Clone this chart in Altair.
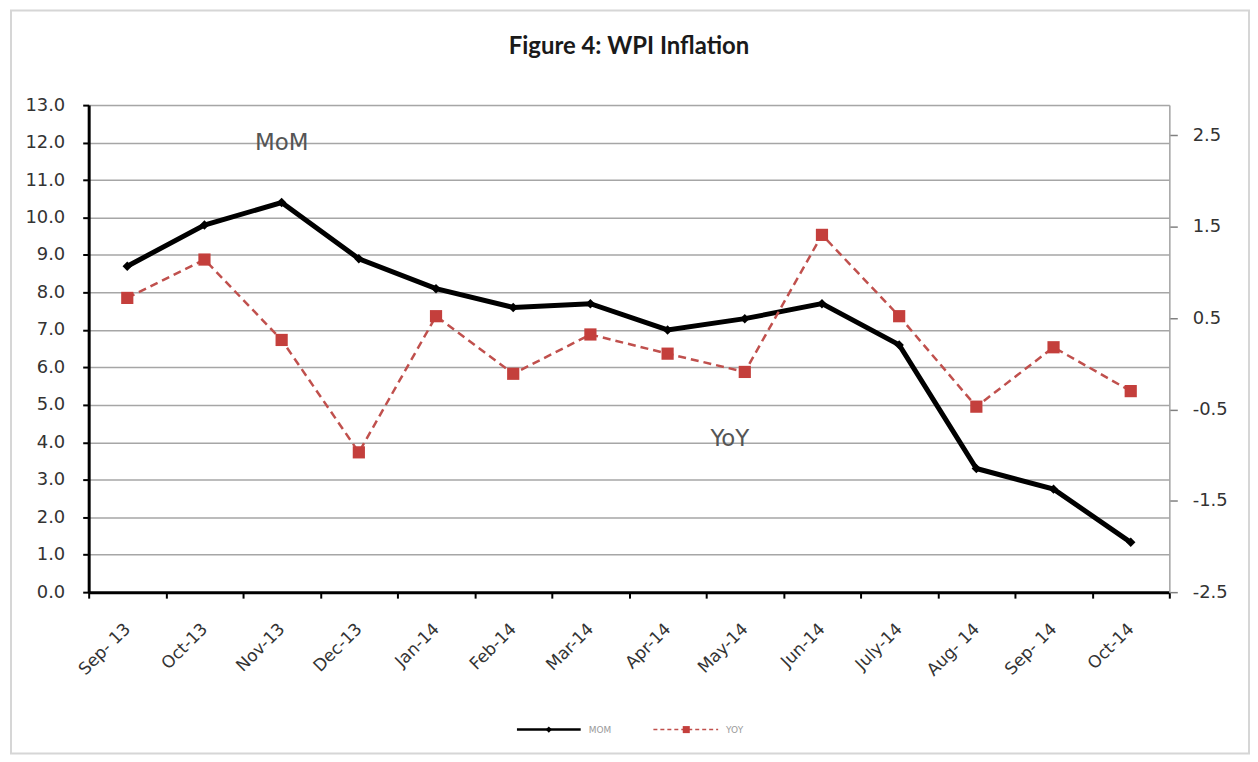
import altair as alt
import pandas as pd

# ---- data ----
months = ["Sep- 13", "Oct-13", "Nov-13", "Dec-13", "Jan-14", "Feb-14", "Mar-14",
          "Apr-14", "May-14", "Jun-14", "July-14", "Aug- 14", "Sep- 14", "Oct-14"]
mom = [8.7, 9.8, 10.4, 8.9, 8.1, 7.6, 7.7, 7.0, 7.3, 7.7, 6.6, 3.3, 2.75, 1.33]
yoy = [0.72, 1.14, 0.26, -0.97, 0.52, -0.11, 0.32, 0.11, -0.09, 1.41, 0.52, -0.47, 0.18, -0.30]
left_ticks = [0, 1, 2, 3, 4, 5, 6, 7, 8, 9, 10, 11, 12, 13]
right_ticks = [-2.5, -1.5, -0.5, 0.5, 1.5, 2.5]
title_text = "Figure 4: WPI Inflation"
annot_mom = {"month": ["Nov-13"], "mom": [12.0], "label": ["MoM"]}
annot_yoy = {"month": ["May-14"], "mom": [4.1], "label": ["YoY"]}

df = pd.DataFrame({"month": months, "idx": list(range(len(months))), "mom": mom, "yoy": yoy})

W, H = 1085, 489
FONT = "DejaVu Sans"
RED = "#c0504d"

x_axis = alt.Axis(title=None, labelAngle=-45, labelAlign="right", labelBaseline="middle",
                  labelFont=FONT, labelFontSize=17, labelColor="#333333", labelPadding=28,
                  tickBand="extent", tickColor="black", tickWidth=2, tickSize=6,
                  domainColor="black", domainWidth=3, grid=False, labelOverlap=False)
x_enc = alt.X("month:N", sort=months, bandPosition=0.5,
              scale=alt.Scale(type="band", paddingInner=0, paddingOuter=0), axis=x_axis)

left_axis = alt.Axis(title=None, values=left_ticks, format=".1f", grid=True,
                     gridColor="#a6a6a6", gridWidth=1.5, domainColor="black", domainWidth=3,
                     tickColor="black", tickWidth=2, tickSize=6, labelFont=FONT,
                     labelFontSize=18, labelColor="#333333", labelPadding=18)
y_left = alt.Y("mom:Q", scale=alt.Scale(domain=[0, 13], nice=False, zero=False), axis=left_axis)

right_axis = alt.Axis(title=None, orient="right", values=right_ticks, grid=False,
                      labelExpr="(datum.value < 0 ? '-' : '') + format(abs(datum.value), '.1f')",
                      domainColor="#a6a6a6", domainWidth=1.5, tickColor="#808080", tickWidth=1.5,
                      tickSize=8, labelFont=FONT, labelFontSize=18, labelColor="#333333",
                      labelPadding=15)
y_right = alt.Y("yoy:Q", scale=alt.Scale(domain=[-2.5, 2.83], nice=False, zero=False), axis=right_axis)

base = alt.Chart(df)

black_line = base.mark_line(color="black", strokeWidth=5).encode(x=x_enc, y=y_left, order="idx:Q")
black_pts = base.mark_point(shape="diamond", filled=True, color="black", size=90, opacity=1).encode(x=x_enc, y=y_left)
t_mom = alt.Chart(pd.DataFrame(annot_mom)).mark_text(font=FONT, fontSize=23, color="#555555").encode(
    x=x_enc, y=y_left, text="label:N")
t_yoy = alt.Chart(pd.DataFrame(annot_yoy)).mark_text(font=FONT, fontSize=23, color="#555555", dx=-15).encode(
    x=x_enc, y=y_left, text="label:N")
left_layer = alt.layer(black_line, black_pts, t_mom, t_yoy)

red_line = base.mark_line(color=RED, strokeWidth=2.5, strokeDash=[8, 5]).encode(x=x_enc, y=y_right, order="idx:Q")
red_pts = base.mark_square(color="#c43f3c", size=150, opacity=1).encode(x=x_enc, y=y_right)
right_layer = alt.layer(red_line, red_pts)

one = pd.DataFrame({"k": [0]})
border = alt.Chart(one).mark_rect(fillOpacity=0, stroke="#d6d6d6", strokeWidth=2).encode(
    x=alt.value(-78), x2=alt.value(1165), y=alt.value(-95), y2=alt.value(651))
title = alt.Chart(one).mark_text(text=title_text, font="Lato", fontWeight="bold", fontSize=24,
                                 color="#1a1a1a").encode(x=alt.value(W / 2), y=alt.value(-58))
leg_black = alt.Chart(one).mark_rule(color="black", strokeWidth=2.5).encode(
    x=alt.value(430), x2=alt.value(494), y=alt.value(627))
leg_black_pt = alt.Chart(one).mark_point(shape="diamond", filled=True, color="black", size=40, opacity=1).encode(
    x=alt.value(462), y=alt.value(627))
leg_black_t = alt.Chart(one).mark_text(text="MOM", font=FONT, fontSize=9, color="#9a9a9a", align="left").encode(
    x=alt.value(502), y=alt.value(627))
leg_red = alt.Chart(one).mark_rule(color=RED, strokeWidth=1.5, strokeDash=[4, 3]).encode(
    x=alt.value(567), x2=alt.value(632), y=alt.value(627))
leg_red_pt = alt.Chart(one).mark_square(color="#c43f3c", size=50, opacity=1).encode(
    x=alt.value(600), y=alt.value(627))
leg_red_t = alt.Chart(one).mark_text(text="YOY", font=FONT, fontSize=9, color="#9a9a9a", align="left").encode(
    x=alt.value(640), y=alt.value(627))

chart = alt.layer(
    border, left_layer, right_layer, title,
    leg_black, leg_black_pt, leg_black_t, leg_red, leg_red_pt, leg_red_t
).resolve_scale(y="independent").properties(
    width=W, height=H, padding={"left": 2, "top": 0, "right": 0, "bottom": 0}
).configure_view(strokeWidth=0).configure(background="white")

chart.save("out.html", embed_options={"renderer": "svg", "actions": False})
